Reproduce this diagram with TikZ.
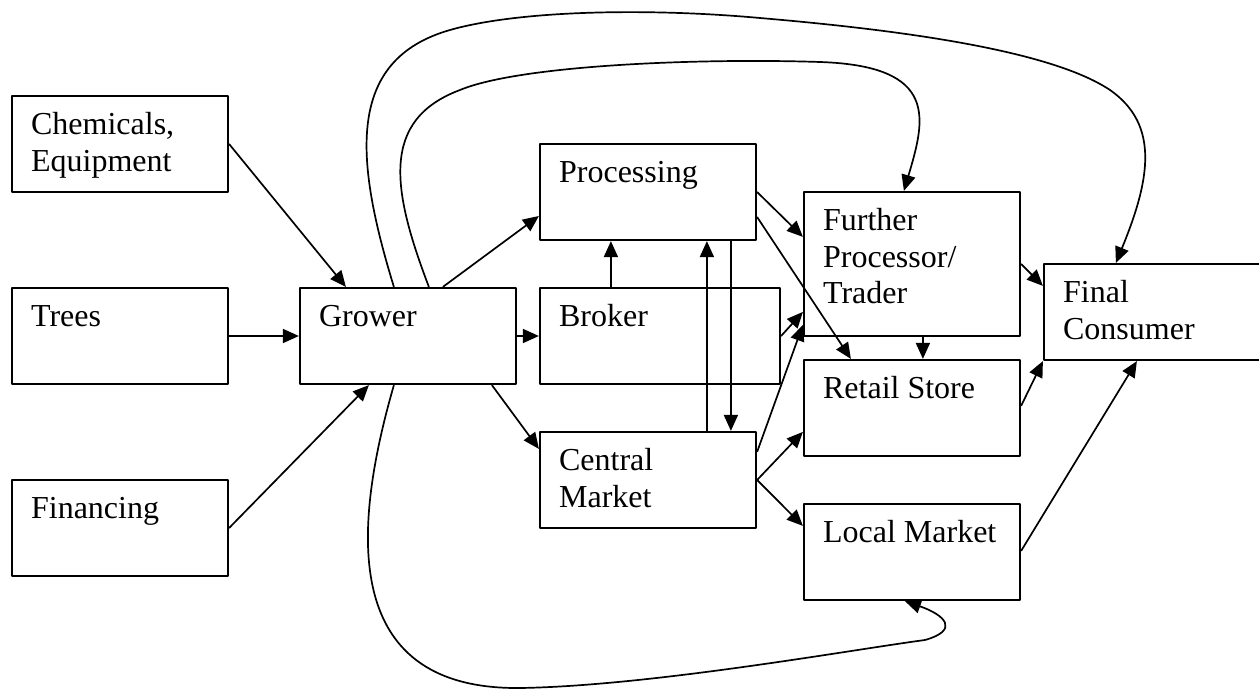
\documentclass[tikz,border=0pt]{standalone}
\usepackage{fontspec}
\setmainfont{Liberation Serif}
\usetikzlibrary{arrows.meta}
\begin{document}
\begin{tikzpicture}[x=1pt,y=-1pt,line join=round,>={Triangle[length=16pt,width=14pt]},
blk/.style={draw,line width=2.2pt,inner sep=0pt},
lbl/.style={anchor=base west,inner sep=0pt,font=\fontsize{32}{36.5}\selectfont},
flow/.style={->,line width=1.7pt}]
\useasboundingbox (0,0) rectangle (1259,690);
% boxes: name/centre x/centre y/width/height/text
\foreach \n/\x/\y/\w/\h/\t in {chem/120/144/216/96/{Chemicals,\\Equipment},
trees/120/336/216/96/{Trees}, fin/120/528/216/96/{Financing},
grower/408/336/216/96/{Grower}, proc/648/192/216/96/{Processing},
broker/660/336/240/96/{Broker}, central/648/480/216/96/{Central\\Market},
further/912/264/216/144/{Further\\Processor/\\Trader}, retail/912/408/216/96/{Retail Store},
local/912/552/216/96/{Local Market}, final/1153/312/218/96/{Final\\Consumer}}{
\node[blk,minimum width=\w pt,minimum height=\h pt] (\n) at (\x,\y) {};
\node[lbl] (\n-txt) at ([xshift=20pt,yshift=-40pt]\n.north west) {\parbox[t]{190pt}{\raggedright\t}};
}
% inputs
\draw[flow] (chem.east) -- ([xshift=47pt]grower.north west);
\draw[flow] (trees.east) -- (grower.west);
\draw[flow] (fin.east) -- ([xshift=70pt]grower.south west);
% grower out
\draw[flow] ([xshift=144pt]grower.north west) -- ([yshift=-24pt]proc.west);
\draw[flow] (grower.east) -- (broker.west);
\draw[flow] ([xshift=193pt]grower.south west) -- ([yshift=-18pt]central.north west);
% middle
\draw[flow] ([xshift=72pt]broker.north west) -- ([xshift=72pt]proc.south west);
\draw[flow] ([xshift=168pt]central.north west) -- ([xshift=168pt]proc.south west);
\draw[flow] ([xshift=192pt]proc.south west) -- ([xshift=192pt]central.north west);
\draw[flow] (proc.east) -- ([yshift=-46pt]further.north west);
\draw[flow] ([yshift=-25pt]proc.east) -- ([xshift=48pt]retail.north west);
\draw[flow] (broker.east) -- ([yshift=-121pt]further.north west);
\draw[flow] ([yshift=-21pt]central.north east) -- ([yshift=-134pt]further.north west);
\draw[flow] ([xshift=120pt]further.south west) -- ([xshift=120pt]retail.north west);
\draw[flow] (central.east) -- ([yshift=-73pt]retail.north west);
\draw[flow] (central.east) -- ([yshift=-23pt]local.north west);
% to consumer
\draw[flow] ([yshift=-73pt]further.north east) -- ([yshift=-23pt]final.north west);
\draw[flow] ([yshift=-47pt]retail.north east) -- (final.south west);
\draw[flow] ([yshift=-48pt]local.north east) -- ([xshift=94pt]final.south west);
% long curves from grower
\draw[flow] ([xshift=130pt]grower.north west) .. controls (392,190) and (380,120) .. (460,90)
  .. controls (520,65) and (700,58) .. (820,62) .. controls (940,66) and (925,120) .. ([xshift=101pt]further.north west);
\draw[flow] ([xshift=95pt]grower.north west) .. controls (355,160) and (345,60) .. (450,30)
  .. controls (520,10) and (650,8) .. (760,18) .. controls (900,30) and (1050,50) .. (1110,90)
  .. controls (1160,125) and (1150,180) .. ([xshift=73pt]final.north west);
\draw[flow] ([xshift=95pt]grower.south west) .. controls (355,520) and (335,690) .. (520,688)
  .. controls (650,686) and (850,650) .. (925,640) .. controls (960,630) and (945,615) .. ([xshift=102pt]local.south west);
\end{tikzpicture}
\end{document}
